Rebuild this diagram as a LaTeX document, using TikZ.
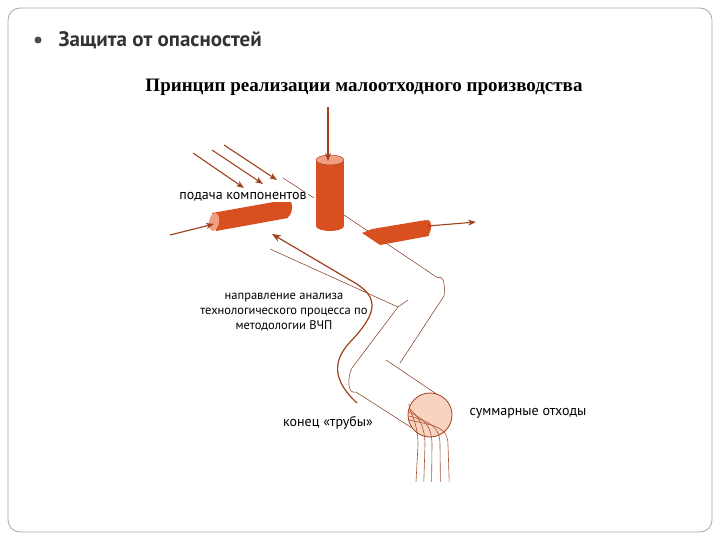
\documentclass[tikz,border=0pt]{standalone}
\usepackage{fontspec}
\setmainfont{PT Sans}
\newfontfamily\serifb{Liberation Serif}
\usetikzlibrary{arrows.meta}
\definecolor{cyl}{HTML}{D8501F}
\definecolor{cyltop}{HTML}{F0A080}
\definecolor{brn}{HTML}{A0401C}
\definecolor{pink}{HTML}{F8D4C0}
\tikzset{arr/.style={brn,line width=1.1pt,-{Stealth[length=8pt,width=6pt]}},
 pipe/.style={brn!80!black,line width=0.5pt},
 lbl/.style={font=\fontsize{14}{15}\selectfont,align=center,inner sep=0pt}}
\begin{document}
\begin{tikzpicture}[x=1pt,y=-1pt]
\useasboundingbox (0,0) rectangle (720,540);
\draw[gray!70,rounded corners=12pt,line width=0.8pt] (8,8) rectangle (712,532);
\fill[black!70] (38,40) circle (3.5);
\node[anchor=west,font=\fontsize{21}{24}\selectfont\bfseries,text=black!80] (t) at (55,40) {Защита от опасностей};
\node[font=\serifb\fontsize{19}{22}\selectfont\bfseries] (st) at (364,87) {Принцип реализации малоотходного производства};
% pipe outlines
\draw[pipe] (283,178) -- (314,198);
\draw[pipe] (344,215) -- (438,278) to[out=35,in=80] (444,296) -- (400,363);
\draw[pipe] (386,360) -- (438,395);
\draw[pipe] (270,249) -- (398,307) -- (408,300);
\draw[pipe] (398,307) -- (352,368) to[out=240,in=200] (356,392) -- (412,428);
% brown analysis arrow
\draw[brn,line width=1.2pt,-{Stealth[length=9pt,width=7pt]}] (357,403) .. controls (332,380) and (332,360) .. (352,340) .. controls (378,312) and (380,296) .. (350,280) -- (272,234);
% vertical cylinder
\fill[cyl] (316,160) rectangle (344,226);
\fill[cyl] (330,226) ellipse (14 and 5);
\fill[cyltop] (330,160) ellipse (14 and 5);
\draw[cyl!80!black,line width=0.5pt] (330,160) ellipse (14 and 5);
\draw[arr] (328,107) -- (328,161);
% left cylinder
\fill[cyl] (212,213) -- (285,200) -- (288,218) -- (216,231) -- cycle;
\fill[cyl,rotate around={-10:(287,209)}] (287,209) ellipse (5 and 9);
\fill[cyltop,rotate around={-10:(214,222)}] (214,222) ellipse (5 and 9);
\draw[arr] (170,235) -- (214,224);
% right cylinder
\fill[cyl] (362,233) -- (372,229) -- (426,220) -- (429,236) -- (380,245) -- cycle;
\fill[cyl,rotate around={-8:(427,228)}] (427,228) ellipse (4 and 8);
\draw[arr] (428,226) -- (476,222);
% input arrows
\draw[arr] (193,153) -- (244,188);
\draw[arr] (212,150) -- (263,184);
\draw[arr] (224,145) -- (277,180);
% end circle
\fill[pink] (430,415) circle (22);
\foreach \s/\e in {0/418,4/425,8/432,12/440,16/448}{
  \draw[brn!90,line width=0.6pt] (409,404+\s) .. controls (\e-10,410+\s) and (\e,420+\s*0.5) .. (\e,445) -- (\e-2+\s*0.2,482);
}
\draw[brn,line width=0.8pt] (430,415) circle (22);
% labels
\node[lbl,fill=white,inner sep=1pt] (a) at (243,197) {подача компонентов};
\node[lbl,font=\fontsize{12.5}{15}\selectfont] (b) at (284,312) {направление анализа\\технологического процесса по\\методологии ВЧП};
\node[lbl] (c) at (328,423) {конец «трубы»};
\node[lbl] (d) at (528,413) {суммарные отходы};
\end{tikzpicture}
\end{document}
